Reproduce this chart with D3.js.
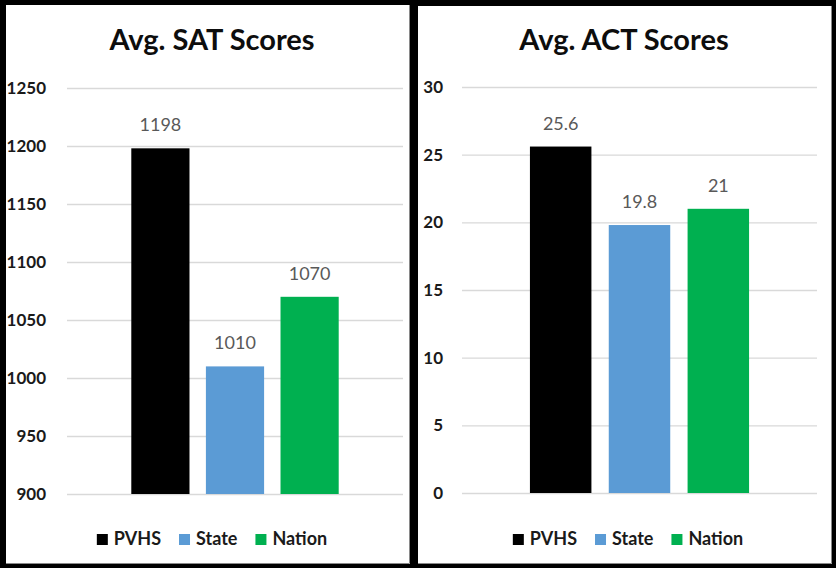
<!DOCTYPE html>
<html>
<head>
<meta charset="utf-8">
<script src="https://cdn.jsdelivr.net/npm/d3@7"></script>
<style>
  body { margin: 0; background: #000; }
  text { font-family: Lato, "Open Sans", sans-serif; }
</style>
</head>
<body>
<div id="chart"></div>
<script>
const series = ["PVHS", "State", "Nation"];
const colors = ["#000000", "#5B9BD5", "#00B050"];

const satValues = [1198, 1010, 1070];
const satTicks = [900, 950, 1000, 1050, 1100, 1150, 1200, 1250];

const actValues = [25.6, 19.8, 21];
const actTicks = [0, 5, 10, 15, 20, 25, 30];

const svg = d3.select("#chart")
    .append("svg")
    .attr("width", 836)
    .attr("height", 568);

svg.append("rect")
    .attr("width", 836)
    .attr("height", 568)
    .attr("fill", "#000");

const color = d3.scaleOrdinal().domain(series).range(colors);

function drawPanel(opt) {
    const g = svg.append("g");

    // white card
    g.append("rect")
        .attr("x", opt.x0).attr("y", opt.y0)
        .attr("width", opt.x1 - opt.x0).attr("height", opt.y1 - opt.y0)
        .attr("fill", "#fff");
    g.append("path")
        .attr("d", `M${opt.x0},${opt.y1 - 0.5}H${opt.x1 - 0.5}V${opt.y0}`)
        .attr("fill", "none")
        .attr("stroke", "#8a8a8a");

    const cx = (opt.x0 + opt.x1) / 2;

    g.append("text")
        .attr("x", cx + opt.titleShift)
        .attr("y", 50)
        .attr("text-anchor", "middle")
        .style("font-size", "29px")
        .style("font-weight", "bold")
        .attr("fill", "#0d0d0d")
        .text(opt.title);

    const y = d3.scaleLinear()
        .domain(opt.domain)
        .range([opt.bottom, opt.top]);

    // gridlines
    g.append("g")
        .attr("transform", `translate(${opt.plotLeft},0)`)
        .call(d3.axisLeft(y).tickValues(opt.ticks).tickSize(-(opt.plotRight - opt.plotLeft)).tickFormat(""))
        .call(a => a.select(".domain").remove())
        .call(a => a.selectAll("line").attr("stroke", "#d9d9d9").attr("stroke-width", 1.3));

    // tick labels
    g.append("g")
        .attr("transform", `translate(${opt.labelRight},0)`)
        .call(d3.axisLeft(y).tickValues(opt.ticks).tickSize(0).tickPadding(0).tickFormat(d3.format("d")))
        .call(a => a.select(".domain").remove())
        .call(a => a.selectAll("text")
            .style("font-size", "17px")
            .style("font-weight", "bold")
            .style("font-family", "Lato, sans-serif")
            .attr("fill", "#1a1a1a"));

    const outer = d3.scaleBand()
        .domain(["all"])
        .range([opt.plotLeft, opt.plotRight])
        .paddingOuter(0.31);

    const x = d3.scaleBand()
        .domain(series)
        .range([outer("all"), outer("all") + outer.bandwidth()])
        .paddingInner(0.22);

    const data = series.map((s, i) => ({ s, v: opt.values[i] }));

    g.selectAll(".bar")
        .data(data)
        .enter()
        .append("rect")
        .attr("x", d => x(d.s))
        .attr("y", d => y(d.v))
        .attr("width", x.bandwidth())
        .attr("height", d => y(opt.domain[0]) - y(d.v))
        .attr("fill", d => color(d.s));

    g.selectAll(".val")
        .data(data)
        .enter()
        .append("text")
        .attr("x", d => x(d.s) + x.bandwidth() / 2)
        .attr("y", d => y(d.v) - 17)
        .attr("text-anchor", "middle")
        .style("font-size", "18px")
        .attr("fill", "#595959")
        .text(d => d.v);

    // legend
    const legend = g.append("g");
    let pos = 0;
    series.forEach((s, i) => {
        legend.append("rect")
            .attr("x", pos).attr("y", -11)
            .attr("width", 11).attr("height", 11)
            .attr("fill", color(s));
        const t = legend.append("text")
            .attr("x", pos + 17)
            .attr("y", 0)
            .style("font-size", "18px")
            .style("font-weight", "bold")
            .attr("fill", "#1a1a1a")
            .text(s);
        pos += 17 + t.node().getComputedTextLength() + (i < series.length - 1 ? 18 : 0);
    });
    legend.attr("transform", `translate(${cx + opt.legendShift - pos / 2},545)`);
}

drawPanel({
    x0: 6, x1: 410, y0: 5, y1: 564,
    title: "Avg. SAT Scores", titleShift: 4,
    domain: [900, 1250], ticks: satTicks, values: satValues,
    top: 88, bottom: 494,
    plotLeft: 67, plotRight: 403, labelRight: 46,
    legendShift: 4
});

drawPanel({
    x0: 418, x1: 832, y0: 6, y1: 564,
    title: "Avg. ACT Scores", titleShift: -1,
    domain: [0, 30], ticks: actTicks, values: actValues,
    top: 87, bottom: 493,
    plotLeft: 462, plotRight: 817, labelRight: 443,
    legendShift: 3
});
</script>
</body>
</html>
